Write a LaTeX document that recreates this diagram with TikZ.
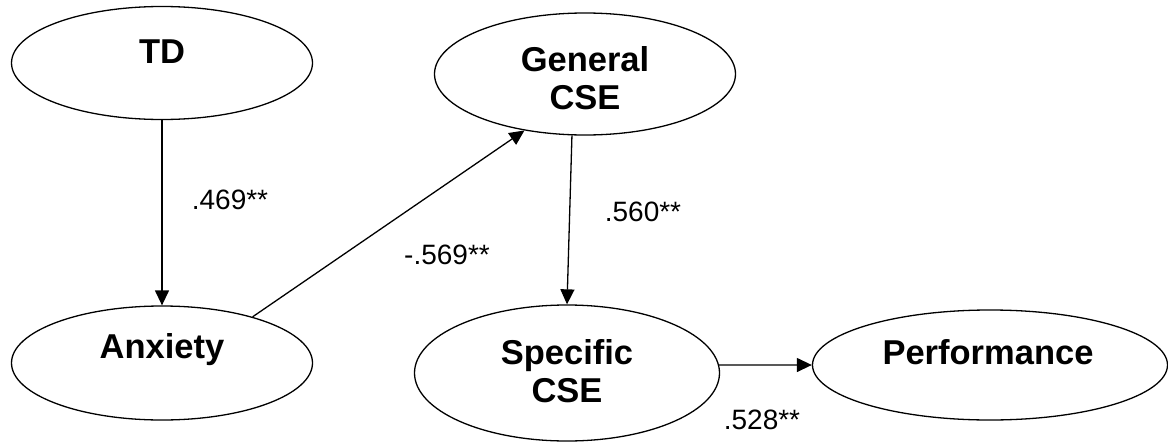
\documentclass[tikz,border=0pt]{standalone}
\usepackage{fontspec}
\setmainfont{Liberation Sans}
\usetikzlibrary{shapes.geometric,arrows.meta}
\begin{document}
\begin{tikzpicture}[x=1pt,y=-1pt,
  latent/.style={draw,ellipse,line width=1.3pt,inner sep=0pt},
  vname/.style={font=\bfseries\fontsize{34.5}{37.5}\selectfont,align=center,inner sep=0pt},
  coef/.style={font=\fontsize{28}{32}\selectfont,inner sep=0pt},
  path/.style={line width=1.3pt,-{Triangle[length=15pt,width=14pt]}}]
\useasboundingbox (0,0) rectangle (1168,442);
\node[latent,minimum width=301pt,minimum height=113pt] (TD) at (162,63) {};
\node[latent,minimum width=301pt,minimum height=114pt] (Anx) at (162,363) {};
\node[latent,minimum width=301pt,minimum height=122pt] (Gen) at (585,74) {};
\node[latent,minimum width=305pt,minimum height=136pt] (Spec) at (567,373) {};
\node[latent,minimum width=355pt,minimum height=110pt] (Perf) at (990,365) {};
\node[vname] (tTD) at (162,52) {TD};
\node[vname] (tAnx) at (162,350) {Anxiety};
\node[vname] (tGen) at (585,78) {General\\CSE};
\node[vname] (tSpec) at (567,371) {Specific\\CSE};
\node[vname] (tPerf) at (988,352) {Performance};
\draw[path] (TD.270) -- (Anx.north);
\draw[path] (Anx.27) -- (Gen.223.5);
\draw[path] (Gen.258.5) -- (Spec.north);
\draw[path] (Spec.3) -- (Perf.west);
\node[coef] (c1) at (230,200) {.469**};
\node[coef] (c2) at (447,255) {-.569**};
\node[coef] (c3) at (643,212) {.560**};
\node[coef] (c4) at (762,420) {.528**};
\end{tikzpicture}
\end{document}
